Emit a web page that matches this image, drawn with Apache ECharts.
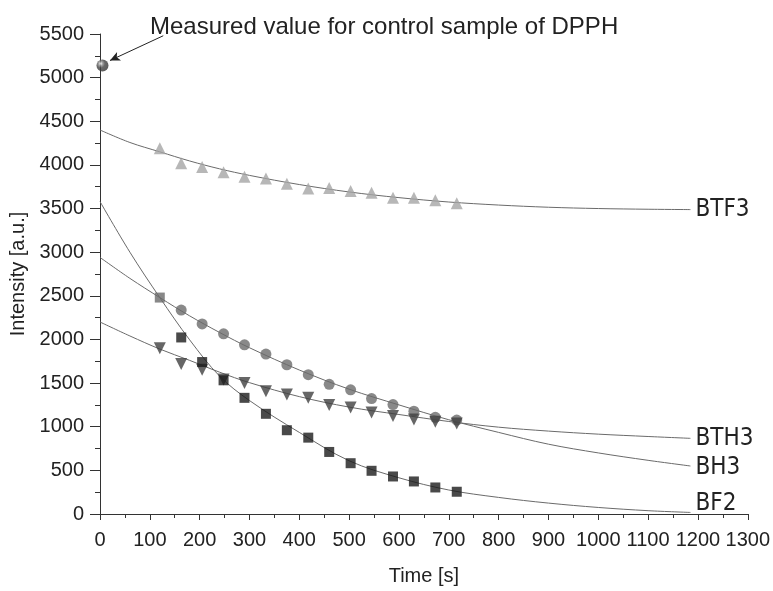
<!DOCTYPE html>
<html>
<head>
<meta charset="utf-8">
<script src="https://cdn.jsdelivr.net/npm/echarts@6/dist/echarts.min.js"></script>
<style>html,body{margin:0;padding:0;background:#fff;}#c{width:773px;height:591px;}</style>
</head>
<body>
<div id="c"></div>
<script>
// measured time points [s]
const times = [120,163,205,248,290,333,375,418,460,503,545,588,630,673,716];
// measured intensities
const btf3 = [4190,4020,3975,3915,3865,3845,3785,3730,3735,3700,3680,3625,3625,3595,3560];
const bth3 = [1900,1718,1653,1540,1502,1407,1368,1331,1250,1220,1163,1122,1083,1057,1038];
const bh3  = [null,2337,2178,2064,1938,1832,1710,1596,1486,1423,1323,1254,1178,1108,1076];
const bf2  = [2480,2023,1741,1532,1331,1148,960,875,711,582,495,430,373,304,255];
// control sample
const controlT = [5];
const controlV = [5140];
// fitted curves
const fitT    = [0,60,120,180,240,300,400,500,600,700,800,900,1000,1100,1185];
const fitBTF3 = [4400,4257,4150,4045,3955,3880,3775,3690,3625,3575,3540,3515,3500,3492,3488];
const fitBTH3 = [2200,2040,1890,1760,1625,1505,1345,1225,1140,1060,995,950,915,888,867];
const fitBH3  = [2940,2700,2480,2270,2080,1905,1650,1430,1250,1080,935,800,700,615,550];
const fitBF2  = [3580,3000,2480,1995,1580,1300,935,610,415,275,190,125,75,38,18];
// axis ticks
const xTicks = {min:0, max:1300, interval:100};
const yTicks = {min:0, max:5500, interval:500};
const annotation = 'Measured value for control sample of DPPH';

const zip = (t, v) => t.map((x, i) => [x, v[i]]);
const narrow = "'Liberation Sans Narrow','DejaVu Sans Condensed',sans-serif";
const sans = "'Liberation Sans',Arial,sans-serif";

function fit(name, vals, offY) {
  return {
    name: name, type: 'line', data: zip(fitT, vals), smooth: 0.35,
    showSymbol: false, silent: true, z: 1,
    lineStyle: {color: '#6a6a6a', width: 1},
    endLabel: {show: true, formatter: name, fontFamily: narrow, fontSize: 24,
               color: '#222', distance: 5, offset: [0, offY || 0]}
  };
}

const chart = echarts.init(document.getElementById('c'));
chart.setOption({
  animation: false,
  title: {text: annotation, left: 145, top: 10,
          textStyle: {fontFamily: sans, fontSize: 24, fontWeight: 'normal', color: '#222'}},
  grid: {left: 100, right: 23, top: 34, bottom: 74},
  xAxis: {
    type: 'value', min: xTicks.min, max: xTicks.max, interval: xTicks.interval,
    name: 'Time [s]', nameLocation: 'middle', nameGap: 52,
    nameTextStyle: {fontFamily: sans, fontSize: 20, color: '#222'},
    axisLine: {lineStyle: {color: '#333', width: 1}},
    axisTick: {show: true, length: 6, lineStyle: {color: '#333'}},
    minorTick: {show: true, splitNumber: 2, length: 4, lineStyle: {color: '#333'}},
    splitLine: {show: false},
    axisLabel: {fontFamily: sans, fontSize: 20, color: '#222', margin: 16,
                showMaxLabel: true, showMinLabel: true, hideOverlap: false,
                formatter: v => String(v)}
  },
  yAxis: {
    type: 'value', min: yTicks.min, max: yTicks.max, interval: yTicks.interval,
    name: 'Intensity [a.u.]', nameLocation: 'middle', nameGap: 72,
    nameTextStyle: {fontFamily: sans, fontSize: 20, color: '#222'},
    axisLine: {show: true, lineStyle: {color: '#333', width: 1}},
    axisTick: {show: true, length: 10, lineStyle: {color: '#333'}},
    minorTick: {show: true, splitNumber: 2, length: 5, lineStyle: {color: '#333'}},
    splitLine: {show: false},
    axisLabel: {fontFamily: sans, fontSize: 20, color: '#222', margin: 16,
                formatter: v => String(v)}
  },
  series: [
    fit('BTF3', fitBTF3),
    fit('BTH3', fitBTH3),
    fit('BH3', fitBH3, 2),
    fit('BF2', fitBF2, -9),
    {name: 'BTF3 data', type: 'scatter', symbol: 'triangle', symbolSize: 12, z: 3,
     data: zip(times, btf3), itemStyle: {color: '#a5a5a5'}},
    {name: 'BH3 data', type: 'scatter', symbol: 'circle', symbolSize: 11, z: 3,
     data: zip(times, bh3).filter(d => d[1] != null), itemStyle: {color: '#6c6c6c'}},
    {name: 'BTH3 data', type: 'scatter', symbol: 'triangle', symbolRotate: 180, symbolSize: 12, z: 3,
     data: zip(times, bth3), itemStyle: {color: '#404040'}},
    {name: 'BF2 data', type: 'scatter', symbol: 'rect', symbolSize: 10, z: 4,
     data: zip(times, bf2).map((d, i) => i === 0 ? {value: d, itemStyle: {color: '#6a6a6a'}} : d),
     itemStyle: {color: '#1c1c1c'}},
    {name: 'control', type: 'scatter', symbol: 'circle', symbolSize: 12, z: 5,
     data: zip(controlT, controlV),
     itemStyle: {color: {type: 'radial', x: 0.35, y: 0.35, r: 0.7,
       colorStops: [{offset: 0, color: '#ffffff'}, {offset: 0.25, color: '#8a8a8a'}, {offset: 0.5, color: '#444444'}, {offset: 1, color: '#333333'}]}},
     markLine: {silent: true, symbol: ['none', 'arrow'], symbolSize: [7, 10],
       lineStyle: {color: '#222', width: 1, type: 'solid'}, label: {show: false},
       data: [[{coord: [127, 5480]}, {coord: [20, 5196]}]]}}
  ]
});
</script>
</body>
</html>
